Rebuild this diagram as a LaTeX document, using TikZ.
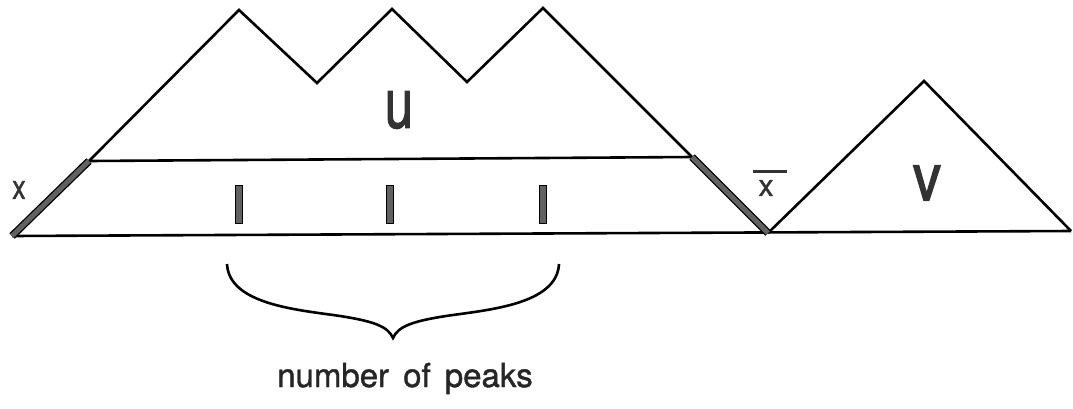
\documentclass[tikz,border=0pt]{standalone}
\usepackage{fontspec}
\setmainfont{TeX Gyre Heros}
\newfontfamily\boldish[FakeBold=1.2]{TeX Gyre Heros}
\newfontfamily\boldishb[FakeBold=2.2]{TeX Gyre Heros}
\usepackage{graphicx}
\begin{document}
\begin{tikzpicture}[x=1pt,y=-1pt,
  path/.style={line width=2.6pt, line join=miter, black},
  thickseg/.style={draw=black, line width=1.3pt, double=black!62, double distance=5pt, line cap=butt},
  bar/.style={draw=black, line width=1pt, fill=black!62, minimum width=7pt, minimum height=38pt, inner sep=0pt},
  letter/.style={inner sep=0pt, text=black!80},
  brace/.style={line width=2.6pt, black}]
\useasboundingbox (0,0) rectangle (1073,408);
% vertices
\coordinate (s) at (12,236);
\coordinate (a) at (89,161);
\coordinate (p1) at (239,10);
\coordinate (v1) at (317,83);
\coordinate (p2) at (392,9);
\coordinate (v2) at (467,82);
\coordinate (p3) at (543,8);
\coordinate (b) at (692,157);
\coordinate (m) at (768,233);
\coordinate (p4) at (924,81);
\coordinate (e) at (1071,231);
% baseline and middle line
\draw[path] (s) -- (e);
\draw[path] (a) -- (b);
% mountains
\draw[path] (a) -- (p1) -- (v1) -- (p2) -- (v2) -- (p3) -- (b);
\draw[path] (m) -- (p4) -- (e);
% thick steps
\draw[thickseg] (s) -- (a);
\draw[thickseg] (b) -- (m);
% labels
\node[letter, font=\boldishb\fontsize{69}{69}\selectfont] (u) at (399,110) {\scalebox{0.74}[1]{u}};
\node[letter, font=\boldishb\fontsize{66}{66}\selectfont] (v) at (927,183) {\scalebox{0.85}[1]{v}};
\node[letter, font=\boldish\fontsize{34}{34}\selectfont] (x) at (19,190) {\scalebox{0.8}[1]{x}};
\node[letter, font=\boldish\fontsize{30}{30}\selectfont] (xb) at (766,188) {x};
\draw[line width=3pt, black!80] ([xshift=-13pt,yshift=8.5pt]xb.north) -- ([xshift=21pt,yshift=8.5pt]xb.north);
% peak bars
\node[bar] (i1) at (238.5,204) {};
\node[bar] (i2) at (390,204) {};
\node[bar] (i3) at (543,204) {};
% brace
\coordinate (bl) at (227,264);
\coordinate (bt) at (393,338);
\coordinate (br) at (559,264);
\draw[brace] (bl) .. controls (229,305) and (300,310) .. (340,316)
  .. controls (372,321) and (388,326) .. (bt)
  .. controls (398,326) and (414,321) .. (446,316)
  .. controls (486,310) and (557,305) .. (br);
\node[font=\boldish\fontsize{33}{33}\selectfont, inner sep=0pt, anchor=base, text=black!85] (lbl) at (405,387) {number\hspace{0.15em} of\hspace{0.15em} peaks};
\end{tikzpicture}
\end{document}
